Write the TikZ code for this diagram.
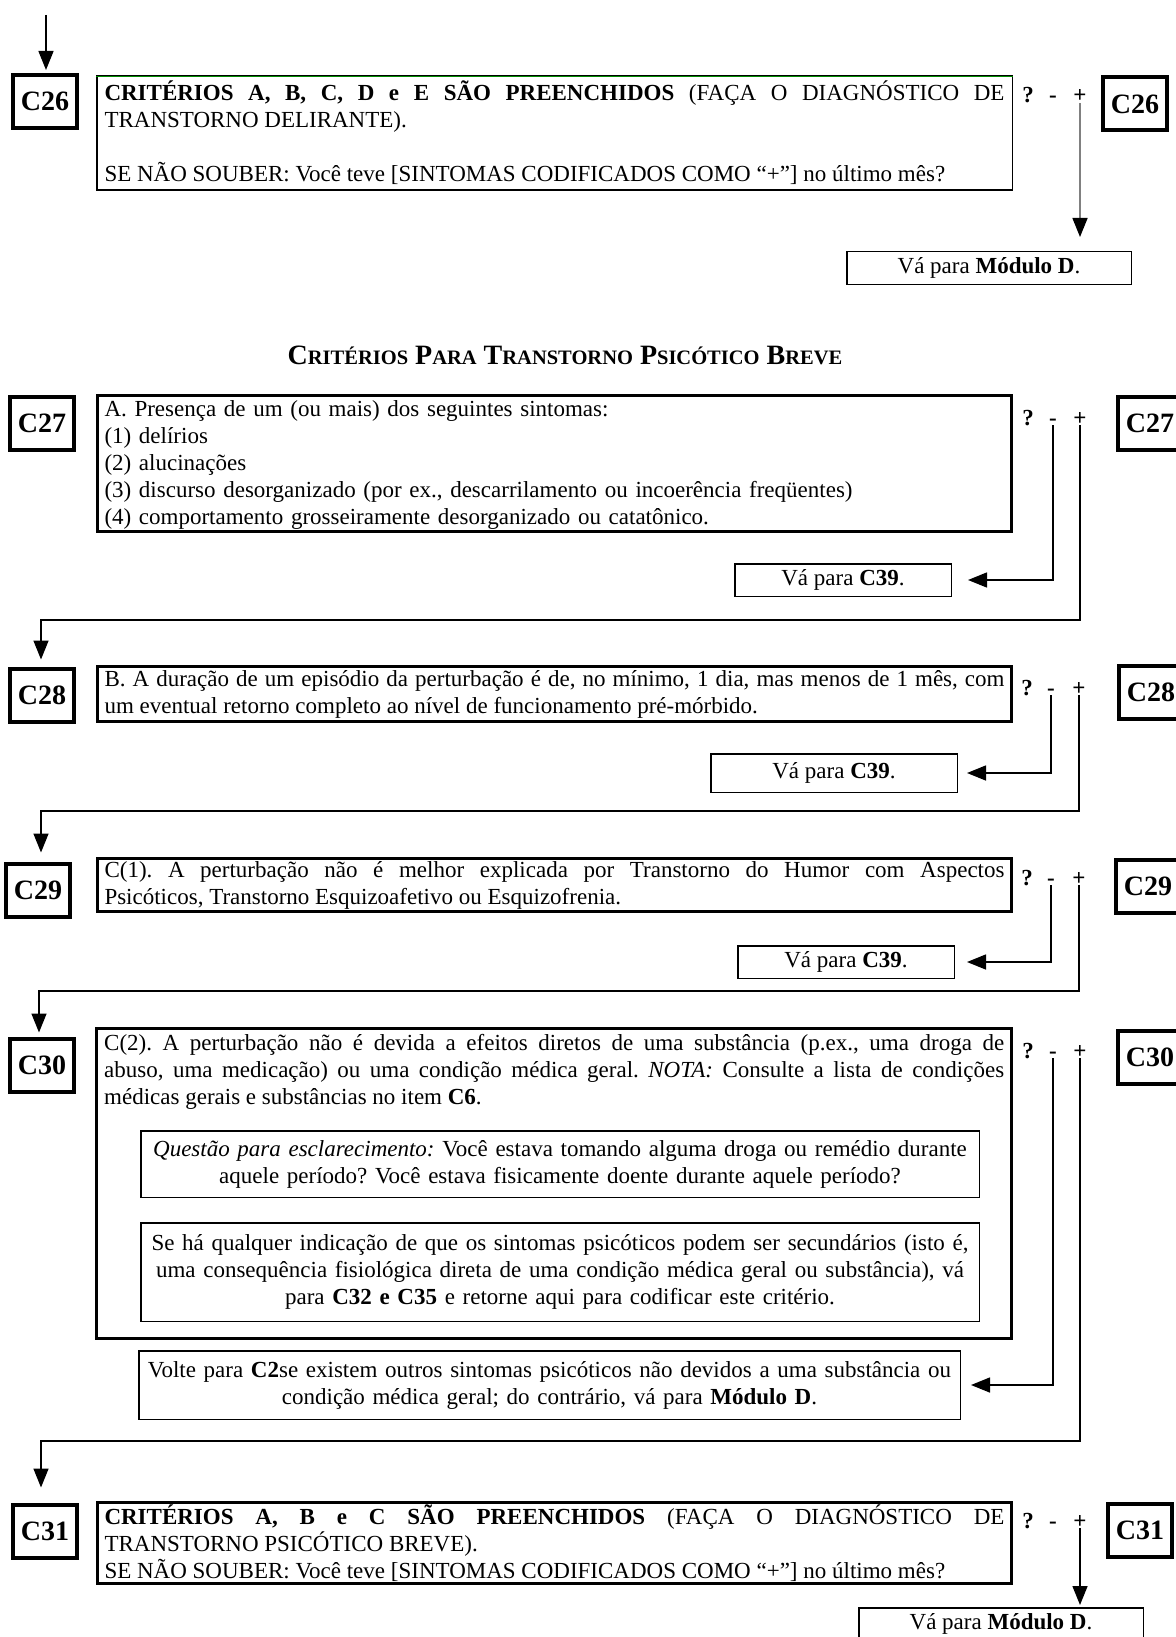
\documentclass[tikz,border=0pt]{standalone}
\usepackage{fontspec}
\setmainfont{Liberation Serif}
\usetikzlibrary{arrows.meta}
\frenchspacing
\newcommand{\bodyfs}{\fontsize{23}{27}\selectfont}
\newcommand{\sscap}[1]{{\fontsize{20.5}{20.5}\selectfont #1}}
\tikzset{
  lab/.style={draw, line width=4pt, minimum width=64pt, minimum height=53pt, inner sep=0pt,
              font=\bfseries\fontsize{28}{28}\selectfont},
  mainbox/.style={draw, line width=3pt, minimum width=914pt, text width=900pt, inner xsep=7pt,
                  inner ysep=2pt, align=justify, font=\bodyfs},
  subbox/.style={draw, line width=1.5pt, align=center, inner sep=0pt, font=\bodyfs},
  gobox/.style={draw, line width=1.5pt, inner sep=0pt, font=\bodyfs},
  sign/.style={anchor=base, inner sep=1pt, font=\bfseries\bodyfs},
  conn/.style={line width=1.5pt},
  tip/.style={-{Triangle[length=19pt,width=15pt]}},
}
\begin{document}
\begin{tikzpicture}[x=1pt,y=-1pt]
\useasboundingbox (0,0) rectangle (1175,1637);
\fill[white] (0,0) rectangle (1175,1637);

% ---------------- C26 ----------------
\coordinate (top26) at (46,15);
\node[lab] (c26L) at (45,101.5) {C26};
\node[mainbox, line width=1.5pt, minimum width=915.5pt, inner xsep=7.75pt, minimum height=114.5pt] (c26m) at (554.5,133)
 {\textbf{CRITÉRIOS A, B, C, D e E SÃO PREENCHIDOS} (FAÇA O DIAGNÓSTICO DE\linebreak TRANSTORNO DELIRANTE).\\[27pt]SE NÃO SOUBER: Você teve [SINTOMAS CODIFICADOS COMO “+”] no último mês?};
\draw[green!55!black, line width=1pt] ([yshift=-1.5pt]c26m.north west) -- ([yshift=-1.5pt]c26m.north east);
\node[lab] (c26R) at (1135,104) {C26};
\node[sign] (q26) at (1028,103) {?};
\node[sign] (m26) at (1053,103) {-};
\node[sign] (p26) at (1080,103) {+};
\node[gobox, minimum width=284.5pt, minimum height=32.5pt] (go26) at (989,268) {Vá para \textbf{Módulo D}.};
\draw[conn, tip, shorten >=3pt] (top26) -- (top26 |- c26L.north);
\draw[conn, draw=gray, -{Triangle[length=19pt,width=15pt,color=black]}, shorten >=14pt] (p26.base) -- (p26.base |- go26.north);

% ---------------- Title ----------------
\node[inner sep=0pt, font=\bfseries\fontsize{28}{28}\selectfont] (title) at (565,355)
 {C\sscap{RITÉRIOS} P\sscap{ARA} T\sscap{RANSTORNO} P\sscap{SICÓTICO} B\sscap{REVE}};

% ---------------- C27 ----------------
\node[lab] (c27L) at (42,423) {C27};
\node[mainbox, align=left, minimum height=134pt] (c27m) at (554.5,463.5)
 {\rule{0pt}{19pt}A. Presença de um (ou mais) dos seguintes sintomas:\\(1) delírios\\(2) alucinações\\(3) discurso desorganizado (por ex., descarrilamento ou incoerência freqüentes)\\(4) comportamento grosseiramente desorganizado ou catatônico.};
\node[lab] (c27R) at (1150,423) {C27};
\node[sign] (q27) at (1028,425) {?};
\node[sign] (m27) at (1053,425) {-};
\node[sign] (p27) at (1080,425) {+};
\node[gobox, minimum width=216.5pt, minimum height=32.5pt] (go27) at (843,580) {Vá para \textbf{C39}.};
\coordinate (t27) at (41,620);

% ---------------- C28 ----------------
\node[lab] (c28L) at (42,695) {C28};
\node[mainbox, minimum height=55pt] (c28m) at (554.5,694)
 {B. A duração de um episódio da perturbação é de, no mínimo, 1 dia, mas menos de 1 mês, com\linebreak um eventual retorno completo ao nível de funcionamento pré-mórbido.};
\node[lab] (c28R) at (1151,692) {C28};
\node[sign] (q28) at (1027,695) {?};
\node[sign] (m28) at (1051,695) {-};
\node[sign] (p28) at (1079,695) {+};
\node[gobox, minimum width=246.5pt, minimum height=38.5pt] (go28) at (834,773) {Vá para \textbf{C39}.};
\coordinate (t28) at (41,811);

% ---------------- C29 ----------------
\node[lab] (c29L) at (38,890) {C29};
\node[mainbox, minimum height=53pt] (c29m) at (554.5,885)
 {C(1). A perturbação não é melhor explicada por Transtorno do Humor com Aspectos\linebreak Psicóticos, Transtorno Esquizoafetivo ou Esquizofrenia.};
\node[lab] (c29R) at (1148,886) {C29};
\node[sign] (q29) at (1027,885) {?};
\node[sign] (m29) at (1051,885) {-};
\node[sign] (p29) at (1079,885) {+};
\node[gobox, minimum width=216.5pt, minimum height=32.5pt] (go29) at (846,962) {Vá para \textbf{C39}.};
\coordinate (t29) at (39,991);

% ---------------- C30 ----------------
\node[lab] (c30L) at (42,1065) {C30};
\node[draw, line width=3pt, minimum width=915pt, minimum height=310pt, inner sep=0pt] (c30m) at (554,1183.5) {};
\node[anchor=north west, inner sep=0pt, text width=900pt, align=justify, font=\bodyfs] (c30t) at (104,1034)
 {C(2). A perturbação não é devida a efeitos diretos de uma substância (p.ex., uma droga de\linebreak abuso, uma medicação) ou uma condição médica geral. \textit{NOTA:} Consulte a lista de condições\linebreak médicas gerais e substâncias no item \textbf{C6}.};
\node[subbox, minimum width=838.5pt, minimum height=66.5pt, text width=830pt] (in1) at (560,1164)
 {\textit{Questão para esclarecimento:} Você estava tomando alguma droga ou remédio durante\\aquele período? Você estava fisicamente doente durante aquele período?};
\node[subbox, minimum width=838.5pt, minimum height=98.5pt, text width=830pt] (in2) at (560,1272)
 {Se há qualquer indicação de que os sintomas psicóticos podem ser secundários (isto é,\\uma consequência fisiológica direta de uma condição médica geral ou substância), vá\\para \textbf{C32 e C35} e retorne aqui para codificar este critério.};
\node[lab] (c30R) at (1150,1057) {C30};
\node[sign] (q30) at (1028,1058) {?};
\node[sign] (m30) at (1053,1058) {-};
\node[sign] (p30) at (1080,1058) {+};
\node[subbox, minimum width=821.5pt, minimum height=68.5pt, text width=815pt] (volte) at (549.5,1385)
 {Volte para \textbf{C2}se existem outros sintomas psicóticos não devidos a uma substância ou\\condição médica geral; do contrário, vá para \textbf{Módulo D}.};
\coordinate (t30) at (41,1441);

% ---------------- C31 ----------------
\node[lab] (c31L) at (45,1531) {C31};
\node[mainbox, minimum height=79pt] (c31m) at (554.5,1543)
 {\textbf{CRITÉRIOS A, B e C SÃO PREENCHIDOS} (FAÇA O DIAGNÓSTICO DE\linebreak TRANSTORNO PSICÓTICO BREVE).\\SE NÃO SOUBER: Você teve [SINTOMAS CODIFICADOS COMO “+”] no último mês?};
\node[lab] (c31R) at (1140,1530) {C31};
\node[sign] (q31) at (1028,1528) {?};
\node[sign] (m31) at (1053,1528) {-};
\node[sign] (p31) at (1080,1528) {+};
\node[gobox, minimum width=284.5pt, minimum height=31.5pt] (go31) at (1001,1623.5) {Vá para \textbf{Módulo D}.};

% ---------------- connectors ----------------
\draw[conn, tip, shorten >=16pt] (m27.base) |- (go27.east);
\draw[conn, tip, shorten >=7pt] (p27.base) |- (t27) -- (t27 |- c28L.north);
\draw[conn, tip, shorten >=9pt] (m28.base) |- (go28.east);
\draw[conn, tip, shorten >=9pt] (p28.base) |- (t28) -- (t28 |- c29L.north);
\draw[conn, tip, shorten >=12pt] (m29.base) |- (go29.east);
\draw[conn, tip, shorten >=4pt] (p29.base) |- (t29) -- (t29 |- c30L.north);
\draw[conn, tip, shorten >=10pt] (m30.base) |- (volte.east);
\draw[conn, tip, shorten >=15pt] (p30.base) |- (t30) -- (t30 |- c31L.north);
\draw[conn, tip, shorten >=2pt] (p31.base) -- (p31.base |- go31.north);
\end{tikzpicture}
\end{document}
